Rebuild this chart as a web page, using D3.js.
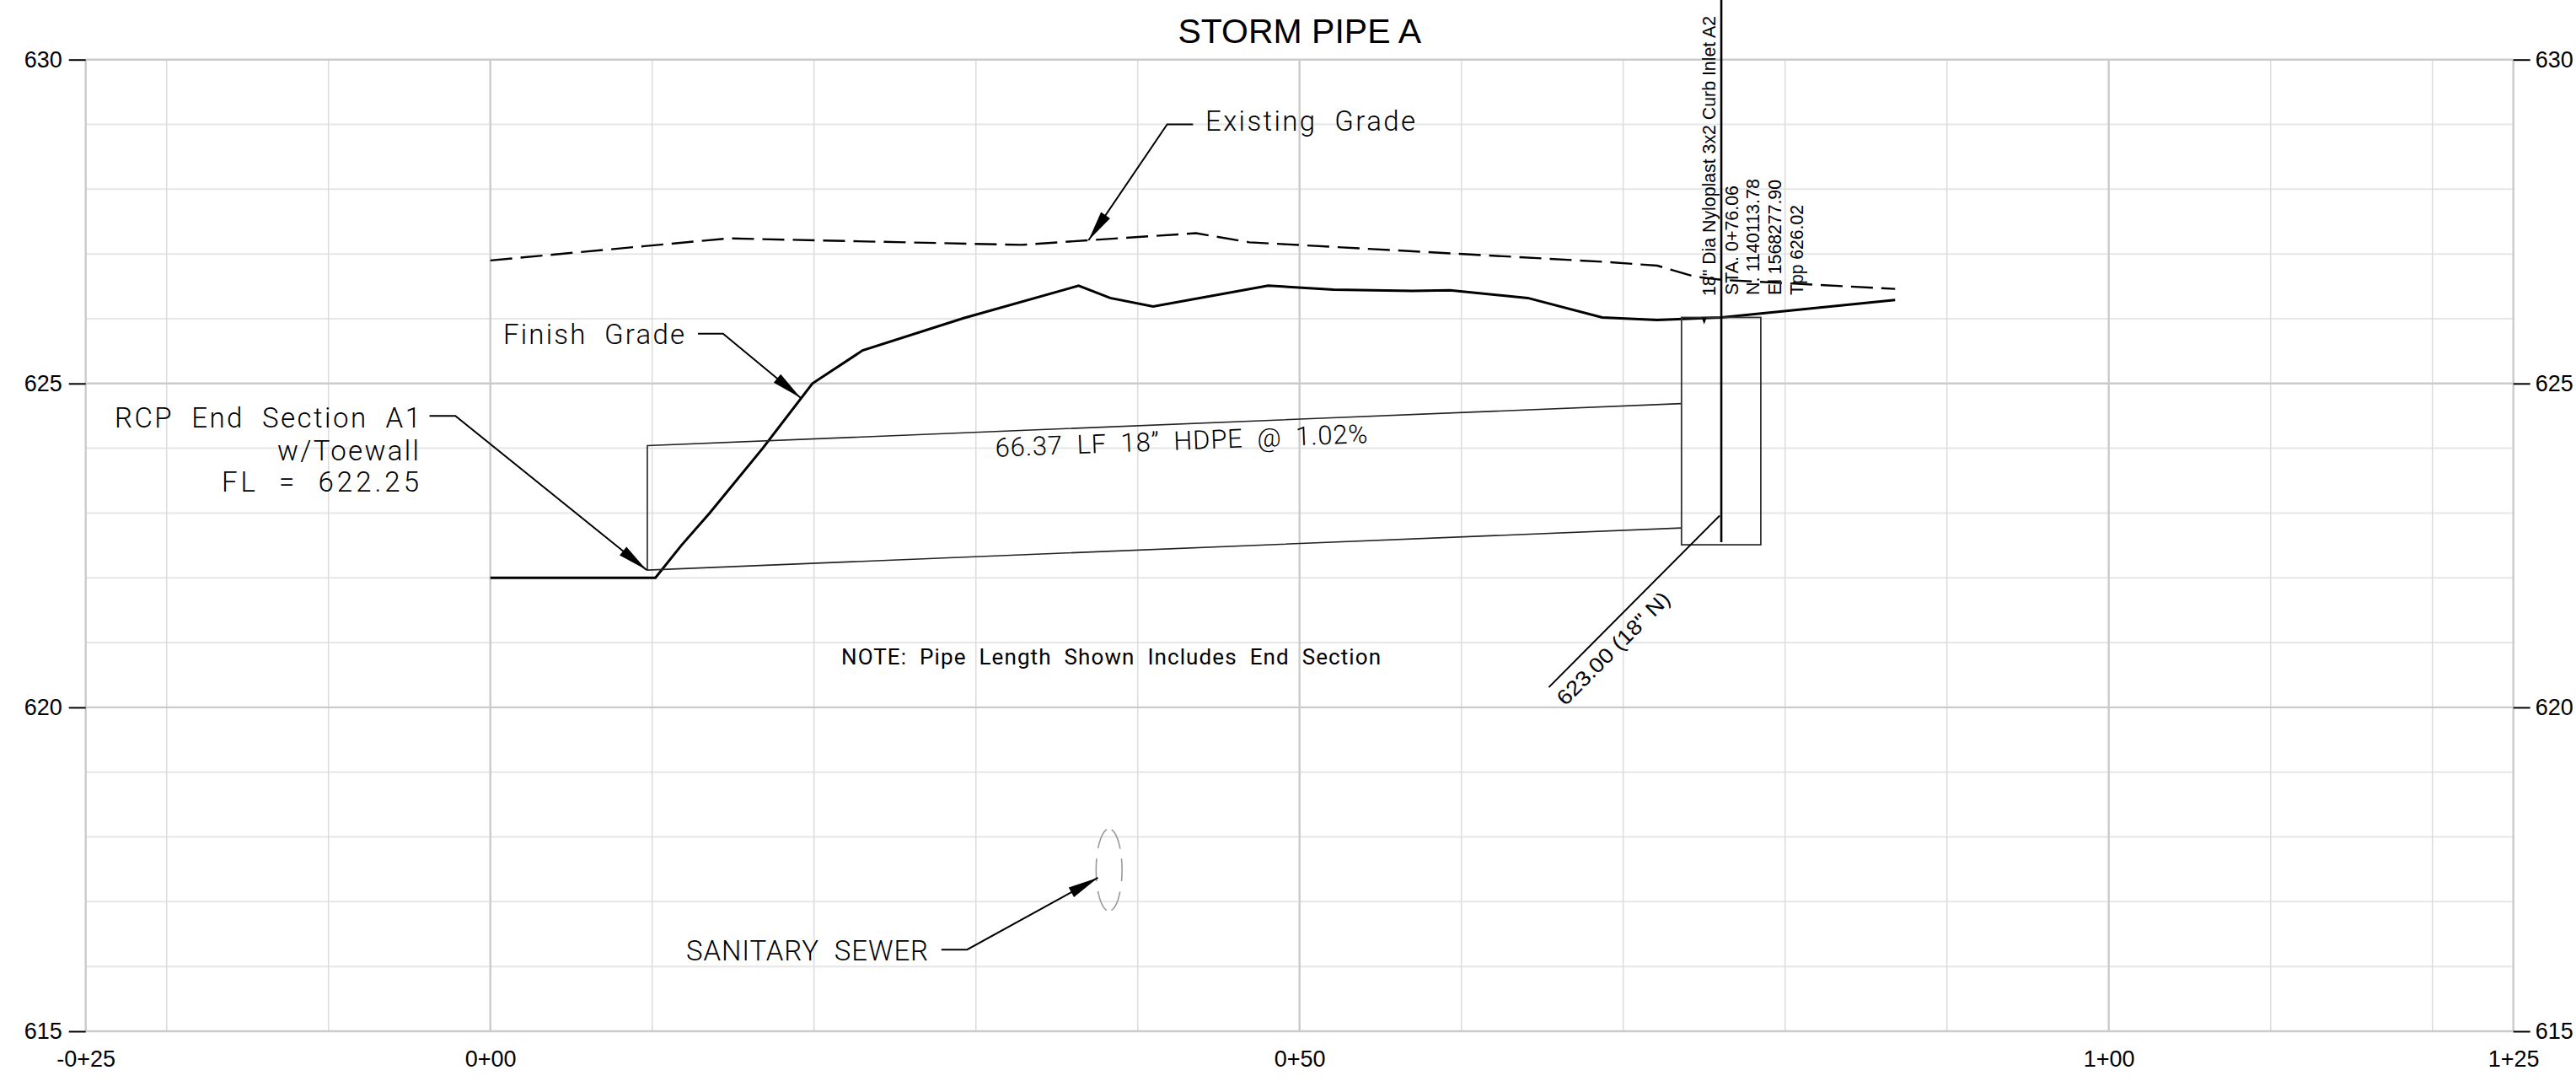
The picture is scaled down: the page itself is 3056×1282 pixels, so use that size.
<!DOCTYPE html>
<html>
<head>
<meta charset="utf-8">
<title>Storm Pipe A</title>
<script src="https://cdn.jsdelivr.net/npm/d3@7"></script>
<style>
  html, body { margin: 0; padding: 0; background: #fff; }
  svg { display: block; }
  text { fill: #000; }
  .arial { font-family: "Liberation Sans", Arial, sans-serif; }
  .cad { font-family: Roboto, sans-serif; font-weight: 300; white-space: pre; }
  .axis path { display: none; }
  .axis text { font-family: "Liberation Sans", Arial, sans-serif; font-size: 27px; fill: #000; }
</style>
</head>
<body>
<svg id="chart" width="3056" height="1282"></svg>
<script>
const title = 'STORM PIPE A';

// stations in feet, elevations in feet
const majorStations = [-25, 0, 50, 100, 125];
const stationLabels = ['-0+25', '0+00', '0+50', '1+00', '1+25'];
const minorStations = [-20, -10, 10, 20, 30, 40, 60, 70, 80, 90, 110, 120];
const majorElevations = [630, 625, 620, 615];
const minorElevations = [629, 628, 627, 626, 624, 623, 622, 621, 619, 618, 617, 616];

const existingStations = [0, 14.7, 32.8, 36.9, 43.6, 46.9, 68.7, 72.1, 74.4, 76.1, 86.8];
const existingGrade = [626.9, 627.24, 627.14, 627.21, 627.32, 627.18, 626.88, 626.82, 626.65, 626.6, 626.46];

const finishStations = [0, 10.2, 11.8, 13.55, 16.83, 19.9, 23, 29.25, 36.35, 38.3, 40.95, 48.06, 52.1, 56.96, 59.3, 64.1, 68.7, 72.1, 76.06, 86.8];
const finishGrade = [622, 622, 622.5, 623, 624, 625, 625.51, 626.01, 626.51, 626.32, 626.19, 626.51, 626.45, 626.43, 626.44, 626.32, 626.02, 625.98, 626.02, 626.29];

const pipeStations = [9.7, 73.6];
const pipeCrown = [624.04, 624.69];
const pipeInvert = [622.12, 622.77];

const inletStations = [73.6, 78.5];
const inletElevations = [622.51, 626.02];
const inletCenter = 76.06;

// station, elevation of each leader: elbow start, elbow end, arrow tip
const existingLeader = [[43.42, 629], [41.82, 629], [36.96, 627.21]];
const finishLeader = [[12.83, 625.77], [14.38, 625.77], [19.17, 624.78]];
const endSectionLeader = [[-3.76, 624.5], [-2.16, 624.5], [9.66, 622.12]];
const sewerLeader = [[27.87, 616.26], [29.46, 616.26], [37.54, 617.37]];
const invertLeader = [[65.4, 620.31], [75.96, 622.96]];

const sewerCenter = [38.23, 617.49];
const sewerRadius = [0.8, 0.634];
const sewerDashes = [[-16, 16], [31, 80], [100, 149], [164, 196], [211, 260], [280, 329]];

const x = d3.scaleLinear().domain([-25, 125]).range([101.7, 2981.7]);
const y = d3.scaleLinear().domain([615, 630]).range([1223, 70.7]);

const svg = d3.select('#chart');

function gridLines(g, values, vertical, color, width) {
  g.selectAll(null).data(values).enter().append('line')
    .attr('x1', d => (vertical ? x(d) : x.range()[0]))
    .attr('x2', d => (vertical ? x(d) : x.range()[1]))
    .attr('y1', d => (vertical ? y.range()[0] : y(d)))
    .attr('y2', d => (vertical ? y.range()[1] : y(d)))
    .attr('stroke', color)
    .attr('stroke-width', width);
}

// grid
const grid = svg.append('g');
gridLines(grid, minorElevations, false, '#e6e6e6', 2);
gridLines(grid, minorStations, true, '#dddddd', 1.6);
gridLines(grid, majorElevations, false, '#cbcbcb', 2.4);
gridLines(grid, majorStations, true, '#cbcbcb', 2.4);

// axes
svg.append('g').attr('class', 'axis')
  .attr('transform', `translate(${x(-25)},0)`)
  .call(d3.axisLeft(y).tickValues(majorElevations).tickSize(20).tickPadding(8).tickFormat(d3.format('d')))
  .selectAll('line').attr('stroke', '#000').attr('stroke-width', 2);

svg.append('g').attr('class', 'axis')
  .attr('transform', `translate(${x(125)},0)`)
  .call(d3.axisRight(y).tickValues(majorElevations).tickSize(20).tickPadding(6).tickFormat(d3.format('d')))
  .selectAll('line').attr('stroke', '#000').attr('stroke-width', 2);

svg.append('g').attr('class', 'axis')
  .attr('transform', `translate(0,${y(615)})`)
  .call(d3.axisBottom(x).tickValues(majorStations).tickSize(0).tickPadding(23)
    .tickFormat((d, i) => stationLabels[i]));

const line = d3.line().x(d => x(d[0])).y(d => y(d[1]));
const zipLine = (xs, ys) => line(xs.map((d, i) => [d, ys[i]]));

// ground lines
svg.append('path')
  .attr('d', zipLine(existingStations, existingGrade))
  .attr('fill', 'none').attr('stroke', '#000').attr('stroke-width', 2.4)
  .attr('stroke-dasharray', '26 10');

svg.append('path')
  .attr('d', zipLine(finishStations, finishGrade))
  .attr('fill', 'none').attr('stroke', '#000').attr('stroke-width', 3);

// pipe
svg.append('path')
  .attr('d', line([
    [pipeStations[1], pipeCrown[1]], [pipeStations[0], pipeCrown[0]],
    [pipeStations[0], pipeInvert[0]], [pipeStations[1], pipeInvert[1]],
  ]))
  .attr('fill', 'none').attr('stroke', '#222').attr('stroke-width', 1.6);

// inlet
svg.append('rect')
  .attr('x', x(inletStations[0]))
  .attr('y', y(inletElevations[1]))
  .attr('width', x(inletStations[1]) - x(inletStations[0]))
  .attr('height', y(inletElevations[0]) - y(inletElevations[1]))
  .attr('fill', 'none').attr('stroke', '#333').attr('stroke-width', 1.8);

svg.append('line')
  .attr('x1', x(inletCenter)).attr('x2', x(inletCenter))
  .attr('y1', 0).attr('y2', y(622.55))
  .attr('stroke', '#000').attr('stroke-width', 2.6);

// tiny tick under the grade at the inlet
svg.append('path')
  .attr('d', line([[74.9, 626.02], [75, 625.95], [75.1, 626.02]]))
  .attr('fill', 'none').attr('stroke', '#000').attr('stroke-width', 2);

// invert leader
svg.append('path')
  .attr('d', line(invertLeader))
  .attr('fill', 'none').attr('stroke', '#000').attr('stroke-width', 2);

// sanitary sewer
svg.append('g').selectAll('path').data(sewerDashes).enter().append('path')
  .attr('d', d => line(d3.range(d[0], d[1] + 1, 4).map((a) => [
    sewerCenter[0] + sewerRadius[0] * Math.cos(a * Math.PI / 180),
    sewerCenter[1] + sewerRadius[1] * Math.sin(a * Math.PI / 180),
  ])))
  .attr('fill', 'none').attr('stroke', '#999').attr('stroke-width', 1.6);

// leaders with arrow heads
function leader(points) {
  svg.append('path')
    .attr('d', line(points))
    .attr('fill', 'none').attr('stroke', '#000').attr('stroke-width', 2);

  const tip = points[points.length - 1];
  const from = points[points.length - 2];
  const tx = x(tip[0]);
  const ty = y(tip[1]);
  const angle = Math.atan2(y(from[1]) - ty, x(from[0]) - tx);
  const len = 36;
  const half = 6.5;
  const bx = tx + len * Math.cos(angle);
  const by = ty + len * Math.sin(angle);
  svg.append('polygon')
    .attr('points', [
      [tx, ty],
      [bx - half * Math.sin(angle), by + half * Math.cos(angle)],
      [bx + half * Math.sin(angle), by - half * Math.cos(angle)],
    ].join(' '))
    .attr('fill', '#000');
}

[existingLeader, finishLeader, endSectionLeader, sewerLeader].forEach(leader);

// text helpers
function cadText(str, px, py, size, width, opts = {}) {
  const t = svg.append('text')
    .attr('class', 'cad')
    .attr('xml:space', 'preserve')
    .attr('font-size', size)
    .attr('textLength', width)
    .attr('text-anchor', opts.anchor || 'start')
    .attr('transform', `translate(${px},${py}) rotate(${opts.rotate || 0})`)
    .text(str);
  if (opts.weight) t.style('font-weight', opts.weight);
  return t;
}

function arialText(str, px, py, size, width, rotate) {
  const t = svg.append('text')
    .attr('class', 'arial')
    .attr('font-size', size)
    .attr('transform', `translate(${px},${py}) rotate(${rotate})`)
    .text(str);
  if (width) t.attr('textLength', width).attr('lengthAdjust', 'spacingAndGlyphs');
}

svg.append('text')
  .attr('class', 'arial')
  .attr('x', x(50))
  .attr('y', 51)
  .attr('text-anchor', 'middle')
  .attr('font-size', 41)
  .text(title);

cadText('Existing  Grade', 1430, 155, 33, 249);
cadText('Finish  Grade', 597, 408, 33, 215);
cadText('RCP  End  Section  A1', 136, 507, 33, 363);
cadText('w/Toewall', 329, 546, 33, 168);
cadText('FL  =  622.25', 263, 583, 33, 234);
cadText('66.37  LF  18”  HDPE  @  1.02%', 1181, 541.7, 31, 442, { rotate: -2.16 });
cadText('NOTE:  Pipe  Length  Shown  Includes  End  Section', 998, 788, 26, 640, { weight: 400 });
cadText('SANITARY  SEWER', 814, 1139, 33, 287);

arialText('18" Dia Nyloplast 3x2 Curb Inlet A2', 2035, 351, 22, 332, -90);
arialText('STA. 0+76.06', 2062, 350, 22, 130, -90);
arialText('N. 1140113.78', 2087, 350, 22, 138, -90);
arialText('El 1568277.90', 2113, 350, 22, 137, -90);
arialText('Tpp 626.02', 2139, 350, 22, 107, -90);
arialText('623.00 (18" N)', 1857, 838, 25, 178, -45);
</script>
</body>
</html>
